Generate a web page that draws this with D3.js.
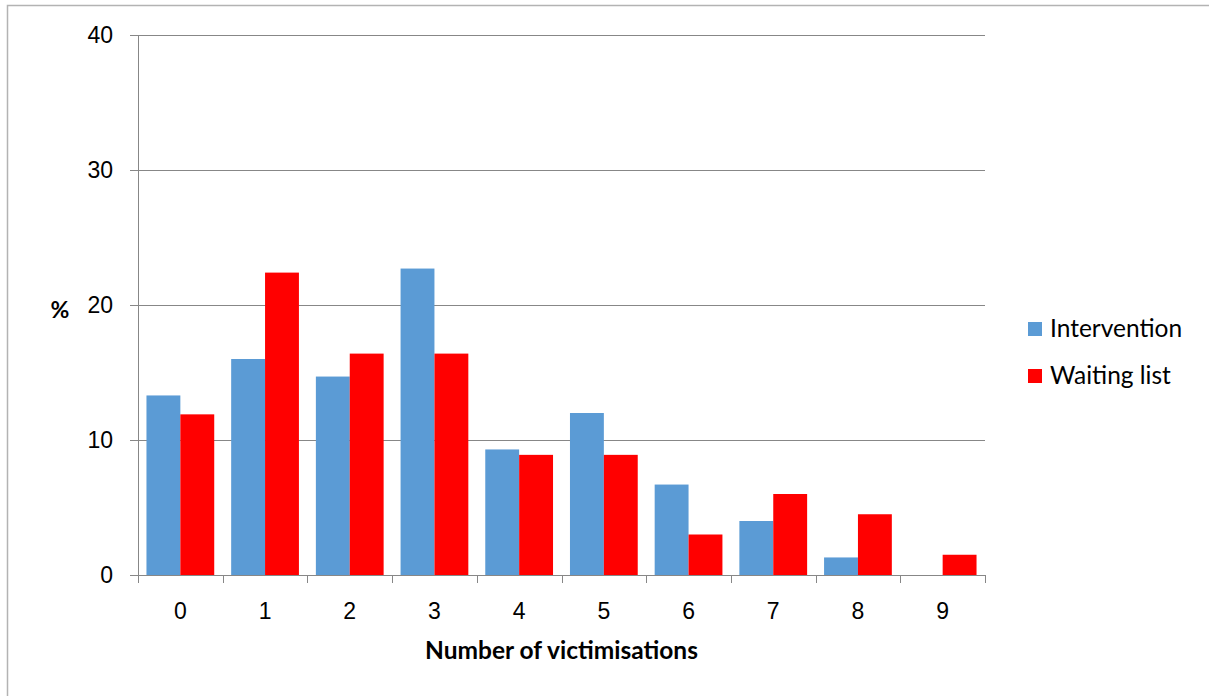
<!DOCTYPE html>
<html>
<head>
<meta charset="utf-8">
<script src="https://cdn.jsdelivr.net/npm/d3@7"></script>
<style>
  body { margin: 0; background: #fff; }
  svg { display: block; font-family: Lato, "Open Sans", sans-serif; }
</style>
</head>
<body>
<div id="chart"></div>
<script>
var w = 1209, h = 696;

// data
var categories = ["0", "1", "2", "3", "4", "5", "6", "7", "8", "9"];
var seriesNames = ["Intervention", "Waiting list"];
var intervention = [13.3, 16.0, 14.7, 22.7, 9.3, 12.0, 6.7, 4.0, 1.3, 0];
var waitingList = [11.9, 22.4, 16.4, 16.4, 8.9, 8.9, 3.0, 6.0, 4.5, 1.5];
var yTicks = [0, 10, 20, 30, 40];
var colors = ["#5b9bd5", "#ff0000"];

var margin = {top: 35, left: 138, right: 224, bottom: 121},
    width = w - margin.left - margin.right,
    height = h - margin.top - margin.bottom;

var svg = d3.select("#chart").append("svg")
    .attr("width", w)
    .attr("height", h);

// outer frame of the chart area
svg.append("rect")
    .attr("x", 7.5).attr("y", 5.5)
    .attr("width", w).attr("height", h)
    .attr("fill", "none")
    .attr("stroke", "#b3b3b3")
    .attr("stroke-width", 1.5);

var g = svg.append("g")
    .attr("transform", "translate(" + margin.left + "," + margin.top + ")");

var x = d3.scaleBand().domain(categories).range([0, width])
    .paddingInner(0.2).paddingOuter(0.1);
var xSub = d3.scaleBand().domain(seriesNames).range([0, x.bandwidth()]);
var y = d3.scaleLinear().domain([0, 40]).range([height, 0]);

// gridlines
g.selectAll(".grid")
    .data(yTicks.slice(1))
  .enter().append("line")
    .attr("class", "grid")
    .attr("x1", 0).attr("x2", width)
    .attr("y1", function(d) { return Math.round(y(d)) + 0.5; })
    .attr("y2", function(d) { return Math.round(y(d)) + 0.5; })
    .attr("stroke", "#878787")
    .attr("stroke-width", 1);

// bars
var rows = categories.map(function(c, i) {
  return {cat: c, values: [intervention[i], waitingList[i]]};
});

var groups = g.selectAll(".grp")
    .data(rows)
  .enter().append("g")
    .attr("transform", function(d) { return "translate(" + x(d.cat) + ",0)"; });

groups.selectAll("rect")
    .data(function(d) { return d.values.map(function(v, j) { return {name: seriesNames[j], v: v, j: j}; }); })
  .enter().append("rect")
    .attr("x", function(d) { return xSub(d.name); })
    .attr("y", function(d) { return y(d.v); })
    .attr("width", xSub.bandwidth())
    .attr("height", function(d) { return height - y(d.v); })
    .attr("fill", function(d) { return colors[d.j]; });

// y axis
var yAxis = g.append("g")
    .call(d3.axisLeft(y).tickValues(yTicks).tickSize(8).tickPadding(17));
yAxis.select(".domain").attr("stroke", "#878787");
yAxis.selectAll(".tick line").attr("stroke", "#878787");
yAxis.selectAll("text")
    .attr("fill", "#000")
    .style("font-size", "23px");

// x axis, ticks on category boundaries
var xAxis = g.append("g")
    .attr("transform", "translate(0," + height + ")")
    .call(d3.axisBottom(x).tickSize(0).tickPadding(28));
xAxis.select(".domain").attr("stroke", "#878787");
xAxis.selectAll("text")
    .attr("fill", "#000")
    .style("font-size", "23px");

var step = x.step();
xAxis.selectAll(".bound")
    .data(d3.range(categories.length + 1))
  .enter().append("line")
    .attr("class", "bound")
    .attr("x1", function(i) { return Math.round(i * step) + 0.5; })
    .attr("x2", function(i) { return Math.round(i * step) + 0.5; })
    .attr("y1", 0).attr("y2", 8)
    .attr("stroke", "#878787");

// axis titles
svg.append("text")
    .attr("x", margin.left + width / 2)
    .attr("y", 659)
    .attr("text-anchor", "middle")
    .style("font-size", "24.5px")
    .style("font-weight", "bold")
    .text("Number of victimisations");

svg.append("text")
    .attr("x", 60)
    .attr("y", 318)
    .attr("text-anchor", "middle")
    .style("font-size", "23px")
    .style("font-weight", "bold")
    .text("%");

// legend
var legend = svg.append("g")
    .attr("transform", "translate(1028,322)");
var items = legend.selectAll(".item")
    .data(seriesNames)
  .enter().append("g")
    .attr("transform", function(d, i) { return "translate(0," + (i * 47) + ")"; });
items.append("rect")
    .attr("width", 14).attr("height", 14)
    .attr("fill", function(d, i) { return colors[i]; });
items.append("text")
    .attr("x", 22)
    .attr("y", 15)
    .style("font-size", "24.5px")
    .text(function(d) { return d; });
</script>
</body>
</html>
